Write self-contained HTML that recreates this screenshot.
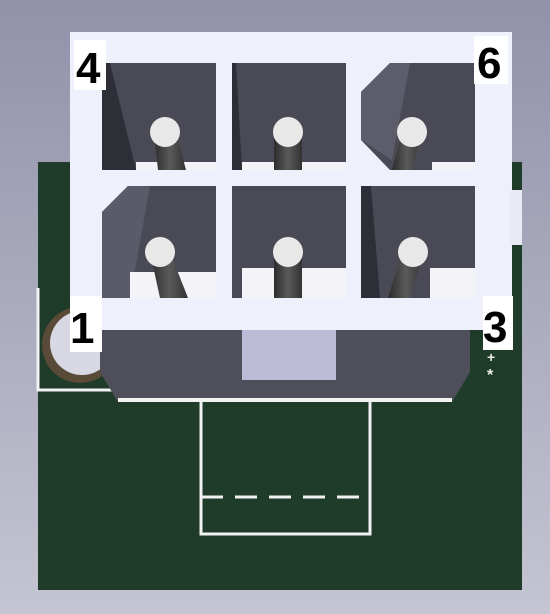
<!DOCTYPE html>
<html><head><meta charset="utf-8"><style>
html,body{margin:0;padding:0;width:550px;height:614px;overflow:hidden}
svg{display:block}
text{font-family:"Liberation Sans",sans-serif;font-weight:bold}
</style></head><body>
<svg width="550" height="614" viewBox="0 0 550 614">
<defs>
<linearGradient id="bg" x1="0" y1="0" x2="0" y2="1"><stop offset="0" stop-color="#9192aa"/><stop offset="1" stop-color="#c4c4d2"/></linearGradient>
<linearGradient id="pin" x1="0" y1="0" x2="1" y2="0"><stop offset="0" stop-color="#2c2c2c"/><stop offset="0.5" stop-color="#5a5a5a"/><stop offset="1" stop-color="#333"/></linearGradient>
</defs>
<rect width="550" height="614" fill="url(#bg)"/>
<rect x="38" y="162" width="484" height="428" fill="#1f3b2a"/>
<g stroke="#f2f2f2" stroke-width="3" fill="none">
<rect x="201" y="400" width="169" height="134"/>
<line x1="201" y1="497" x2="370" y2="497" stroke-dasharray="22,12"/>
<polyline points="38,288 38,390 115,390"/>
</g>
<circle cx="80" cy="345" r="38" fill="#5a4a38"/>
<circle cx="82" cy="343" r="32" fill="#d8d8e4"/>
<polygon points="100,328 470,328 470,372 452,402 118,402 100,372" fill="#4f4f5b"/>
<rect x="242" y="330" width="94" height="50" fill="#bcbcd8"/>
<rect x="118" y="398" width="334" height="4" fill="#f2f2f2"/>
<rect x="70" y="32" width="442" height="298" fill="#eef1fc"/>
<rect x="510" y="190" width="12" height="55" fill="#e8eaf6"/>
<g>
<g id="c1"><rect x="102" y="63" width="114" height="107" fill="#4a4a56"/><polygon points="102,63 110,63 136,170 102,170" fill="#2e2e36"/><rect x="136" y="162" width="80" height="8" fill="#f4f4f8"/><polygon points="154,132 176,132 186,170 158,170" fill="url(#pin)"/><circle cx="165" cy="132" r="15" fill="#e8e8e8"/></g>
<g><rect x="232" y="63" width="114" height="107" fill="#4a4a56"/><polygon points="232,63 236,63 242,170 232,170" fill="#2e2e36"/><rect x="242" y="162" width="104" height="8" fill="#f4f4f8"/><rect x="274" y="132" width="28" height="38" fill="url(#pin)"/><circle cx="288" cy="132" r="15" fill="#e8e8e8"/></g>
<g><polygon points="390,63 475,63 475,170 390,170 361,140 361,92" fill="#4a4a56"/><polygon points="390,63 410,63 392,160 361,140 361,92" fill="#5c5c6a"/><rect x="432" y="162" width="43" height="8" fill="#f4f4f8"/><polygon points="402,132 422,132 412,170 392,170" fill="url(#pin)"/><circle cx="412" cy="132" r="15" fill="#e8e8e8"/></g>
<g><polygon points="128,186 216,186 216,298 102,298 102,212" fill="#4a4a56"/><polygon points="128,186 150,186 130,298 102,298 102,212" fill="#5a5a68"/><rect x="130" y="272" width="86" height="26" fill="#f4f4f8"/><polygon points="150,252 170,252 188,298 160,298" fill="url(#pin)"/><circle cx="160" cy="252" r="15" fill="#e8e8e8"/></g>
<g><rect x="232" y="186" width="114" height="112" fill="#4a4a56"/><rect x="242" y="268" width="104" height="30" fill="#f4f4f8"/><rect x="274" y="252" width="28" height="46" fill="url(#pin)"/><circle cx="288" cy="252" r="15" fill="#e8e8e8"/></g>
<g><rect x="361" y="186" width="114" height="112" fill="#4a4a56"/><polygon points="361,186 371,186 380,298 361,298" fill="#2e2e36"/><rect x="430" y="268" width="45" height="30" fill="#f4f4f8"/><polygon points="402,252 424,252 410,298 388,298" fill="url(#pin)"/><circle cx="413" cy="252" r="15" fill="#e8e8e8"/></g>
</g>
<g>
<rect x="74" y="40" width="32" height="50" fill="#fff"/><text x="76" y="83" font-size="44">4</text>
<rect x="474" y="36" width="34" height="48" fill="#fff"/><text x="477" y="78" font-size="44">6</text>
<rect x="70" y="296" width="32" height="56" fill="#fff"/><text x="70" y="343" font-size="44">1</text>
<rect x="483" y="296" width="30" height="54" fill="#fff"/><text x="483" y="342" font-size="44">3</text>
<text x="487" y="362" font-size="14" fill="#eee">+</text><text x="487" y="380" font-size="16" fill="#eee">*</text>
</g>
</svg>
</body></html>
